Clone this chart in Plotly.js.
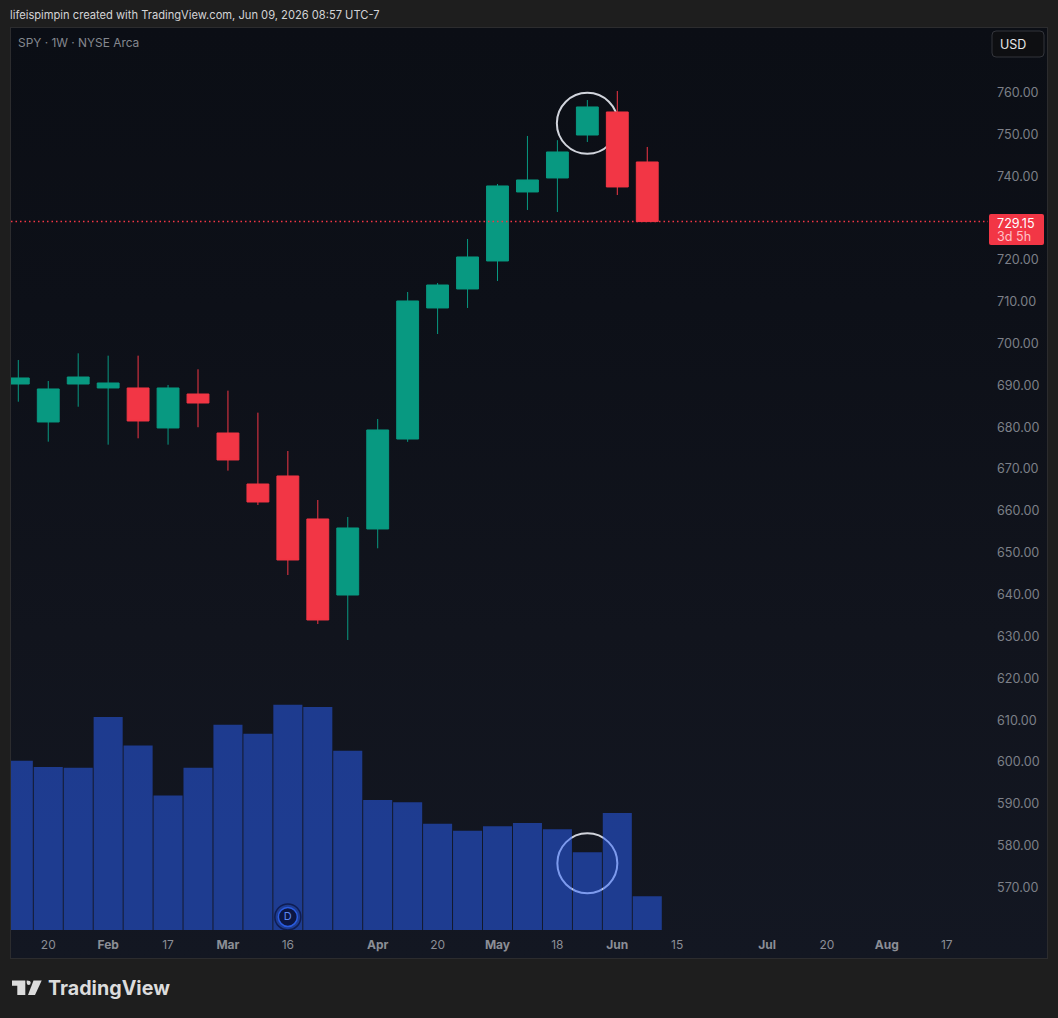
<!DOCTYPE html>
<html>
<head>
<meta charset="utf-8">
<script src="https://cdn.plot.ly/plotly-3.0.1.min.js"></script>
<style>
html,body{margin:0;padding:0;background:#1e1e1e;width:1058px;height:1018px;overflow:hidden}
#frame{position:absolute;left:10px;top:27px;width:1036px;height:930px;border:1px solid #2c2c2e;
 background:linear-gradient(180deg,#0b0e15 0%,#0d1018 30%,#11141d 65%,#131722 100%)}
#chart{position:absolute;left:0;top:0;width:1058px;height:1018px}
</style>
</head>
<body>
<div id="frame"></div>
<div id="chart"></div>
<script>
const weeks = ["2026-01-12","2026-01-19","2026-01-26","2026-02-02","2026-02-09","2026-02-16","2026-02-23","2026-03-02","2026-03-09","2026-03-16","2026-03-23","2026-03-30","2026-04-06","2026-04-13","2026-04-20","2026-04-27","2026-05-04","2026-05-11","2026-05-18","2026-05-25","2026-06-01","2026-06-08"];
const opens  = [690.33,681.25,690.33,689.38,689.38,679.82,687.94,678.62,666.43,668.35,658.07,639.90,655.68,677.18,708.50,713.04,719.73,736.22,739.57,749.84,755.34,743.39];
const highs  = [696.07,691.05,697.66,697.10,697.10,690.10,693.84,688.74,683.48,674.32,662.61,658.55,681.97,712.32,714.47,724.99,738.13,749.61,748.60,758.20,760.36,746.98];
const lows   = [686.10,676.55,684.90,675.83,677.35,675.83,680.00,669.62,661.41,644.68,632.97,629.15,651.06,676.50,702.28,708.50,714.95,731.92,731.44,748.17,735.50,729.15];
const closes = [691.77,689.14,692.00,690.57,681.49,689.38,685.79,672.17,662.13,648.27,633.93,655.92,679.34,710.17,713.99,720.69,737.66,739.09,745.78,756.54,737.42,729.15];
const volumes = [220,212,211,277,240,175,211,267,255,293,290,233,169,166,138,129,135,139,131,101,152,44];
const tickDates = ["2026-01-19","2026-02-02","2026-02-16","2026-03-02","2026-03-16","2026-04-06","2026-04-20","2026-05-04","2026-05-18","2026-06-01","2026-06-15","2026-07-06","2026-07-20","2026-08-03","2026-08-17"];
const tickLabels = ["20","<b>Feb</b>","17","<b>Mar</b>","16","<b>Apr</b>","20","<b>May</b>","18","<b>Jun</b>","15","<b>Jul</b>","20","<b>Aug</b>","17"];
const priceTicks = [570,580,590,600,610,620,630,640,650,660,670,680,690,700,710,720,740,750,760];
const priceTickLabels = priceTicks.map(v => v.toFixed(2));
const lastPrice = 729.15;
const dividendWeek = ["2026-03-16"];
const dividendLevel = [17];

const L = 11, R = 988, T = 27, B = 930;
const px = x => (x - L) / (R - L);
const py = y => (B - y) / (B - T);
const pt = (x, y) => px(x) + "," + py(y);
function poly(points){ return "M" + points.map(p => pt(p[0], p[1])).join(" L") + " Z"; }
function rounded(x0, y0, x1, y1, r){
  return "M" + pt(x0 + r, y0) + " L" + pt(x1 - r, y0) + " Q" + pt(x1, y0) + " " + pt(x1, y0 + r) +
    " L" + pt(x1, y1 - r) + " Q" + pt(x1, y1) + " " + pt(x1 - r, y1) +
    " L" + pt(x0 + r, y1) + " Q" + pt(x0, y1) + " " + pt(x0, y1 - r) +
    " L" + pt(x0, y0 + r) + " Q" + pt(x0, y0) + " " + pt(x0 + r, y0) + " Z";
}
function note(x, y, text, size, color, extra){
  return Object.assign({xref:"paper", yref:"paper", x:px(x), y:py(y), text:text, showarrow:false,
    xanchor:"left", yanchor:"middle", font:{family:"Inter, sans-serif", size:size, color:color}}, extra || {});
}
function pixelCircle(xa, yr, ya, r, color){
  return {type:"circle", layer:"below", xref:"x", yref:yr, xsizemode:"pixel", ysizemode:"pixel",
    xanchor:xa, yanchor:ya, x0:-r, x1:r, y0:-r, y1:r, line:{color:color, width:2}, fillcolor:"rgba(0,0,0,0)"};
}

const traces = [
  {type:"bar", x:weeks, y:volumes, yaxis:"y2", marker:{color:"rgba(41,98,255,0.5)", line:{width:0}}, hoverinfo:"skip", showlegend:false},
  {type:"candlestick", x:weeks, open:opens, high:highs, low:lows, close:closes, whiskerwidth:0, showlegend:false,
   increasing:{line:{color:"#089981", width:1}, fillcolor:"#089981"},
   decreasing:{line:{color:"#f23645", width:1}, fillcolor:"#f23645"}},
  {type:"scatter", mode:"markers", x:dividendWeek, y:dividendLevel, yaxis:"y2", hoverinfo:"skip", showlegend:false,
   marker:{size:26, color:"rgba(19,23,34,0.0)", line:{color:"#0f1d52", width:1.5}}},
  {type:"scatter", mode:"markers+text", x:dividendWeek, y:dividendLevel, yaxis:"y2", hoverinfo:"skip", showlegend:false,
   text:["D"], textposition:"middle center", textfont:{family:"Inter, sans-serif", size:11, color:"#5d86f0"},
   marker:{size:19, color:"#0c1642", line:{color:"#2a5ce0", width:1.5}}}
];

const layout = {
  width:1058, height:1018, autosize:false,
  margin:{l:L, r:1058-R, t:T, b:1018-B, pad:0},
  paper_bgcolor:"rgba(0,0,0,0)", plot_bgcolor:"rgba(0,0,0,0)",
  showlegend:false, boxgap:0.27, boxgroupgap:0, barmode:"overlay", bargap:0.03, dragmode:false,
  xaxis:{type:"date", range:["2026-01-10 07:03","2026-08-26 15:22"], rangeslider:{visible:false},
    tickmode:"array", tickvals:tickDates, ticktext:tickLabels, ticklen:0, showgrid:false, zeroline:false, showline:false,
    tickfont:{family:"Inter, sans-serif", size:12, color:"#8b8e96"}, ticklabelstandoff:6},
  yaxis:{side:"right", range:[559.84,775.65], tickmode:"array", tickvals:priceTicks, ticktext:priceTickLabels,
    ticklen:0, showgrid:false, zeroline:false, showline:false, ticklabelstandoff:8,
    tickfont:{family:"Inter, sans-serif", size:12.6, color:"#7d8088"}},
  yaxis2:{overlaying:"y", side:"left", range:[0,1174], visible:false, showgrid:false, zeroline:false},
  shapes:[
    pixelCircle("2026-05-25","y",752.64,30.5,"#d1d4dc"),
    pixelCircle("2026-05-25","y2",86.7,30,"#d1d4dc"),
    {type:"line", layer:"above", xref:"paper", yref:"y", x0:0, x1:1, y0:lastPrice, y1:lastPrice, line:{color:"#f23645", width:1.5, dash:"1.5px,3px"}},
    {type:"path", xref:"paper", yref:"paper", path:rounded(989,214,1044,245,2), fillcolor:"#f23645", line:{width:0}},
    {type:"path", xref:"paper", yref:"paper", path:rounded(992,31,1044,57,4), fillcolor:"#0e0f12", line:{color:"#33353b", width:1}},
    {type:"path", xref:"paper", yref:"paper", path:poly([[12,980.5],[25.3,980.5],[25.3,995],[17.3,995],[17.3,985.7],[12,985.7]]), fillcolor:"#dcdcdc", line:{width:0}},
    {type:"path", xref:"paper", yref:"paper", path:"M"+pt(26.7,980.5)+" Q"+pt(30.7,980.5)+" "+pt(30.7,982.7)+" Q"+pt(30.7,985)+" "+pt(28.7,985)+" Q"+pt(26.7,985)+" "+pt(26.7,982.7)+" Z", fillcolor:"#dcdcdc", line:{width:0}},
    {type:"path", xref:"paper", yref:"paper", path:poly([[33.5,980.5],[41.7,980.5],[35,995],[28,995]]), fillcolor:"#dcdcdc", line:{width:0}}
  ],
  annotations:[
    note(8,15,"lifeispimpin created with TradingView.com, Jun 09, 2026 08:57 UTC-7",11.15,"#d4d4d6"),
    note(16,42.5,"SPY · 1W · NYSE Arca",11.9,"#85888f"),
    note(998,44,"USD",12.5,"#e6e6e8"),
    note(995,223,"729.15",12.6,"#ffffff"),
    note(995,236,"3d 5h",12.6,"#ffc2c7"),
    note(46,988,"<b>TradingView</b>",19.7,"#dcdcdc")
  ]
};
Plotly.newPlot("chart", traces, layout, {displayModeBar:false, staticPlot:true});
</script>
</body>
</html>
